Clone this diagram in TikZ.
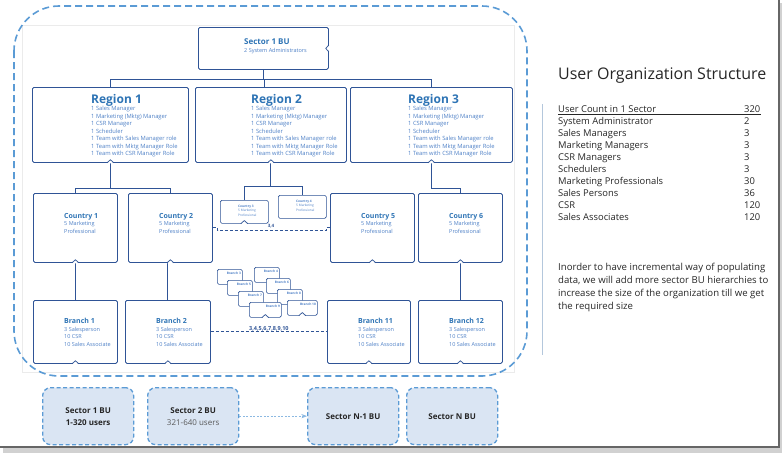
\documentclass[tikz,border=0pt]{standalone}
\usepackage{fontspec}
\setmainfont{Open Sans}
\usepackage{xcolor}
\usetikzlibrary{positioning, arrows.meta, calc}
\definecolor{boxblue}{HTML}{2F5496}
\definecolor{headblue}{HTML}{2E74B5}
\definecolor{txtblue}{HTML}{4F81C7}
\definecolor{frameblue}{HTML}{5B9BD5}
\definecolor{bufill}{HTML}{DAE5F3}
\definecolor{inkgray}{HTML}{262626}
\definecolor{rulegray}{HTML}{B4C7DC}
\newcommand{\boxhead}[2]{{\fontsize{#1}{#1}\selectfont\bfseries\color{headblue}#2}}
\newcommand{\notch}[1]{%
  \fill[white] ($(#1.south)+(-3,0.6)$) -- ($(#1.south)+(0,-3)$) -- ($(#1.south)+(3,0.6)$) -- cycle;
  \draw[link, line width=0.7pt] ($(#1.south)+(-3.5,0)$) -- ($(#1.south)+(0,-3)$) -- ($(#1.south)+(3.5,0)$);}
\newcommand{\sidenotch}[1]{%
  \fill[white] ($(#1.east)+(0.6,-3)$) -- ($(#1.east)+(-3,0)$) -- ($(#1.east)+(0.6,3)$) -- cycle;
  \draw[link, line width=0.7pt] ($(#1.east)+(0,-3.5)$) -- ($(#1.east)+(-3,0)$) -- ($(#1.east)+(0,3.5)$);}

\begin{document}
\begin{tikzpicture}[
    x=1pt, y=-1pt,
    orgbox/.style={draw=boxblue, line width=0.8pt, fill=white, inner sep=0pt,
                   anchor=north west, rounded corners=1.5pt},
    link/.style={draw=boxblue, line width=0.9pt},
    dashlink/.style={link, dash pattern=on 3pt off 2pt},
    boxtext/.style={anchor=north west, align=left, inner sep=0pt, text=txtblue,
                    font=\fontsize{5.5}{7.5}\selectfont},
    regtext/.style={boxtext, font=\fontsize{5.8}{7.5}\selectfont},
    minitext/.style={align=left, inner sep=0pt, text=txtblue,
                     font=\fontsize{3.2}{4.4}\selectfont},
    bigframe/.style={draw=frameblue, line width=1.6pt,
                     dash pattern=on 7pt off 4pt, rounded corners=45},
    bubox/.style={draw=frameblue, line width=1.3pt, dash pattern=on 4pt off 2.5pt,
                  fill=bufill, rounded corners=8pt, anchor=north west,
                  minimum width=91, minimum height=57, align=center, inner sep=0pt,
                  text=inkgray, font=\fontsize{8}{12}\selectfont\bfseries},
    tabtext/.style={anchor=base west, inner sep=0pt, text=inkgray,
                    font=\fontsize{9.4}{11}\selectfont},
    >=Stealth
  ]
  \useasboundingbox (0,0) rectangle (782,455);

  % Slide edge and shadow
  \fill[black!18] (3,448) rectangle (782,453);
  \fill[black!18] (780,3) rectangle (782,453);
  \draw[black!60, line width=1.2pt] (779,0) -- (779,447) -- (0,447);

  % Org chart picture
  \draw[black!8] (22,25) rectangle (514,372);
  \draw[bigframe] (14,6) rectangle (527,376);

  % Sector box
  \node[orgbox, minimum width=130, minimum height=42] (sec) at (198,27) {};
  \node[boxtext] (sect) at ($(sec.north west)+(46,12)$)
    {\boxhead{8}{Sector 1 BU}\\2 System Administrators};

  % Regions
  \foreach \n/\x/\w/\dx in {1/32/156/59, 2/195/151/56, 3/350/162/58} {
    \node[orgbox, minimum width=\w, minimum height=75] (r\n) at (\x,87) {};
    \node[regtext] (r\n t) at ($(r\n.north west)+(\dx,7)$)
      {\boxhead{12}{Region \n}\\1 Sales Manager\\1 Marketing (Mktg) Manager\\
       1 CSR Manager\\1 Scheduler\\1 Team with Sales Manager role\\
       1 Team with Mktg Manager Role\\1 Team with CSR Manager Role};
  }

  % Countries
  \foreach \n/\x in {1/33, 2/128, 5/330, 6/418} {
    \node[orgbox, minimum width=84, minimum height=69] (c\n) at (\x,193) {};
    \node[boxtext] (c\n t) at ($(c\n.north west)+(31,20)$)
      {\boxhead{7}{Country \n}\\5 Marketing\\Professional};
  }
  \node[orgbox, line width=0.6pt, minimum width=48, minimum height=23] (c3) at (220,200) {};
  \node[orgbox, line width=0.6pt, minimum width=48, minimum height=23] (c4) at (278,195) {};
  \foreach \n in {3,4}
    \node[minitext, anchor=north west] (c\n t) at ($(c\n.north west)+(18,5)$)
      {\textbf{Country \n}\\5 Marketing\\Professional};

  % Branches
  \foreach \n/\x/\w in {1/33/84, 2/125/85, 11/327/83, 12/418/84} {
    \node[orgbox, minimum width=\w, minimum height=63] (b\n) at (\x,300) {};
    \node[boxtext] (b\n t) at ($(b\n.north west)+(31,18)$)
      {\boxhead{7}{Branch \n}\\3 Salesperson\\10 CSR\\10 Sales Associate};
  }
  \foreach \n/\x/\y/\w in {3/217/269/25, 4/254/267/25, 5/227/280/25,
                           6/266/278/24, 7/238/291/25, 8/277/289/25,
                           9/249/302/32, 10/287/300/30} {
    \node[orgbox, line width=0.6pt, minimum width=\w, minimum height=15] (b\n) at (\x,\y) {};
    \node[minitext, font=\fontsize{3.2}{4}\selectfont\bfseries, anchor=north east]
      (b\n t) at ($(b\n.north east)+(-1.5,2.5)$) {Branch \n};
  }

  % Connectors
  \draw[link] (sec.south) -- ++(0,10) coordinate (hub);
  \draw[link] (r1.north) |- (hub) -| (r3.north);
  \draw[link] (hub) -| ($(r2.north)+(-6,0)$);
  \draw[link] (r1.south) -- ++(0,26) coordinate (h1);
  \draw[link] (c1.north) |- (h1) -| (c2.north);
  \draw[link] (r2.south) -- ++(0,24) coordinate (h2);
  \draw[link] (c3.north) |- (h2) -| (c4.north);
  \draw[link] (r3.south) -- ++(0,26) -| (c6.north);
  \draw[link] (c1.south) -- (c1.south |- b1.north);
  \draw[link] ($(c2.south)+(-3,0)$) -- ($(c2.south |- b2.north)+(-3,0)$);
  \draw[link] (c6.south) -- (c6.south |- b12.north);
  \draw[dashlink] (c2.east) -- ++(5,0) -- ++(0,3) -| ($(c5.west)+(-4,0)$) -- (c5.west);
  \node[minitext, font=\fontsize{4.5}{5}\selectfont\bfseries, text=boxblue] (lbl34)
    at (271,226) {3,4};
  \draw[dashlink] (b2.east) -- (b11.west)
    node[midway, above=0.5pt, inner sep=0pt, text=boxblue,
         font=\fontsize{5.5}{6}\selectfont\bfseries] (lblbr) {3,4,5,6,7,8,9,10};

  % Notches
  \foreach \b in {r1, r2, r3, c1, c2, c3, c5, c6, b1, b2, b11, b12, b9, b10}
    \notch{\b};
  \sidenotch{sec}

  % Sector BUs
  \node[bubox] (s1) at (42,387) {Sector 1 BU\\1-320 users};
  \node[bubox] (s2) at (147,387)
    {Sector 2 BU\\{\mdseries\color{black!65}321-640 users}};
  \node[bubox] (sn1) at (307,387) {Sector N-1 BU};
  \node[bubox] (sn) at (406,387) {Sector N BU};
  \draw[->, frameblue!70, line width=0.6pt, dash pattern=on 2pt off 1.5pt]
    (s2.east) -- (sn1.west);

  % Right panel
  \draw[rulegray, line width=0.6pt] (542,104) -- (542,355);
  \node[anchor=base west, inner sep=0pt, text=inkgray,
        font=\fontsize{16}{18}\selectfont] (title) at (558,79)
    {User Organization Structure};
  \foreach \lbl/\val [count=\i from 0] in {User Count in 1 Sector/320,
      System Administrator/2, Sales Managers/3, Marketing Managers/3,
      CSR Managers/3, Schedulers/3, Marketing Professionals/30,
      Sales Persons/36, CSR/120, Sales Associates/120} {
    \node[tabtext] (lbl\i) at (558,{112+12.05*\i}) {\lbl};
    \node[tabtext] (val\i) at (744,{112+12.05*\i}) {\val};
  }
  \draw[inkgray, line width=0.5pt] ($(lbl0.base west)+(0,2)$) -- ($(val0.base west)+(17,2)$);
  \node[anchor=north west, align=left, inner sep=0pt, text=inkgray,
        font=\fontsize{9.6}{13}\selectfont] (note) at (558,263)
    {Inorder to have incremental way of populating\\
     data, we will add more sector BU hierarchies to\\
     increase the size of the organization till we get\\
     the required size};
\end{tikzpicture}
\end{document}
